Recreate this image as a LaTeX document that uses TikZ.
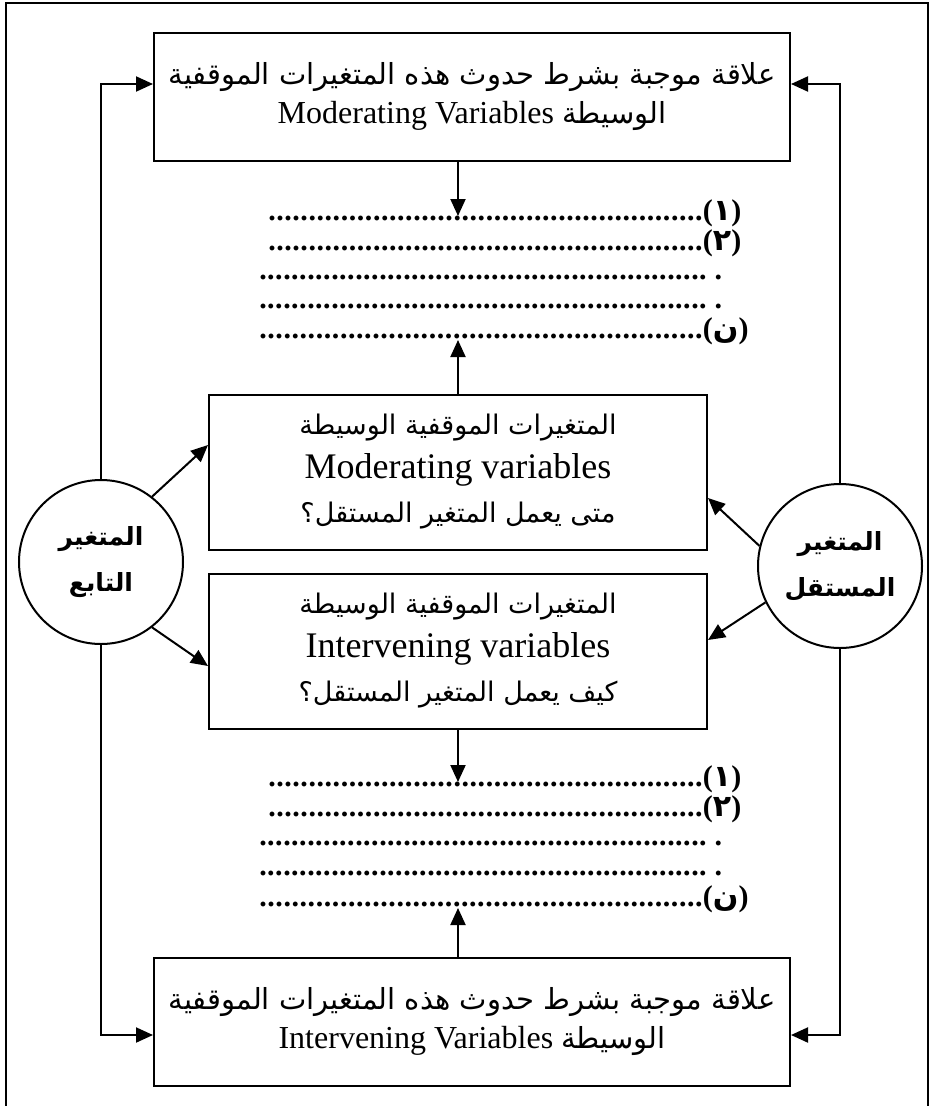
\documentclass[tikz,border=0pt]{standalone}
\usepackage{fontspec}
\setmainfont{Liberation Serif}
\newfontfamily\arabicfont[Script=Arabic]{DejaVu Sans}
\usetikzlibrary{arrows.meta}
\TeXXeTstate=1

\newcommand{\artxt}[2][29]{{\fontsize{#1}{#1}\arabicfont\beginR #2\endR}}
\newcommand{\dotfillrow}[1]{\xleaders\hbox to 8pt{\hss.\hss}\hskip #1\relax}
\newcommand{\itemno}[1]{({\arabicfont #1})}

\begin{document}
\begin{tikzpicture}[x=1pt,y=-1pt,line width=2pt,
    arr/.style={-{Triangle[length=17pt,width=15pt]}},
    bigbox/.style={draw,minimum width=636pt,minimum height=128pt,align=center,inner sep=0pt,
      font=\fontsize{32}{39}\selectfont},
    midbox/.style={draw,minimum width=498pt,minimum height=155pt,align=center,inner sep=0pt,
      font=\fontsize{36}{44}\selectfont},
    varcirc/.style={draw,circle,minimum size=164pt,inner sep=0pt,align=center,
      font=\fontsize{25}{46}\selectfont\bfseries},
    dotline/.style={anchor=base west,inner sep=0pt,text height=3pt,text depth=1pt,
      font=\fontsize{30}{30}\selectfont\bfseries}]
  \useasboundingbox (0,0) rectangle (934,1106);
  \draw (6,1106) -- (6,3) -- (928,3) -- (928,1106); %% outer frame, open at the bottom

  \node[bigbox] (modtop) at (472,97) {\artxt{علاقة موجبة بشرط حدوث هذه المتغيرات الموقفية}\\
    \beginR\artxt{الوسيطة} \beginL Moderating Variables\endL\endR};
  \node[midbox] (mbox) at (458,472) {\artxt[27]{المتغيرات الموقفية الوسيطة}\\
    Moderating variables\\ \artxt[27]{متى يعمل المتغير المستقل؟}};
  \node[midbox] (ibox) at (458,651) {\artxt[27]{المتغيرات الموقفية الوسيطة}\\
    Intervening variables\\ \artxt[27]{كيف يعمل المتغير المستقل؟}};
  \node[bigbox] (intbot) at (472,1022) {\artxt{علاقة موجبة بشرط حدوث هذه المتغيرات الموقفية}\\
    \beginR\artxt{الوسيطة} \beginL Intervening Variables\endL\endR};
  %\draw[red] (0,1026)--(934,1026); %guide line

  \node[varcirc] (dep) at (101,562) {\artxt[25]{المتغير}\\ \artxt[25]{التابع}};
  \node[varcirc] (indep) at (840,566) {\artxt[25]{المتغير}\\ \artxt[25]{المستقل}};

  %% dotted lists
  \node[dotline] (ma1) at (267,220) {\dotfillrow{435pt}\itemno{١}};
  \node[dotline] (ma2) at (267,250) {\dotfillrow{435pt}\itemno{٢}};
  \node[dotline] (ma3) at (258,279) {\dotfillrow{448pt} .};
  \node[dotline] (ma4) at (258,308) {\dotfillrow{448pt} .};
  \node[dotline] (ma5) at (258,338) {\dotfillrow{444pt}\itemno{ن}};

  \node[dotline] (ia1) at (267,786) {\dotfillrow{435pt}\itemno{١}};
  \node[dotline] (ia2) at (267,816) {\dotfillrow{435pt}\itemno{٢}};
  \node[dotline] (ia3) at (258,845) {\dotfillrow{448pt} .};
  \node[dotline] (ia4) at (258,875) {\dotfillrow{448pt} .};
  \node[dotline] (ia5) at (258,906) {\dotfillrow{444pt}\itemno{ن}};

  \draw[arr] (modtop.south -| mbox.north) -- (ma1.north -| mbox.north);
  \draw[arr] (mbox.north) -- (ma5.south -| mbox.north);
  \draw[arr] (ibox.south) -- (ia1.north -| ibox.south);
  \draw[arr] (intbot.north -| ibox.south) -- (ia5.south -| ibox.south);

  \draw[arr] (dep.north) |- ([yshift=13pt]modtop.west);
  \draw[arr] (indep.north) |- ([yshift=13pt]modtop.east);
  \draw[arr] (dep.south) |- ([yshift=-13pt]intbot.west);
  \draw[arr] (indep.south) |- ([yshift=-13pt]intbot.east);

  \draw[arr] (dep.52) -- ([yshift=27pt]mbox.west);
  \draw[arr] (dep.-52) -- ([yshift=-15pt]ibox.west);
  \draw[arr] (indep.166) -- ([yshift=-26pt]mbox.east);
  \draw[arr] (indep.206) -- ([yshift=11pt]ibox.east);
\end{tikzpicture}
\end{document}
